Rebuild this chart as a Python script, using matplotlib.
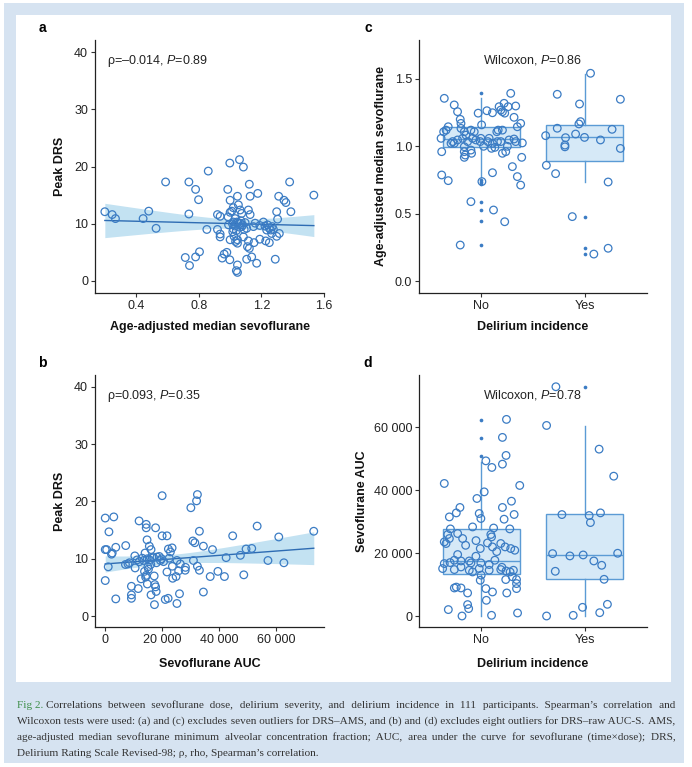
import numpy as np
import matplotlib
matplotlib.use('Agg')
import matplotlib.pyplot as plt
from matplotlib.patches import Rectangle
from matplotlib.ticker import FuncFormatter

plt.rcParams['font.family'] = ['Liberation Sans', 'DejaVu Sans']
plt.rcParams['mathtext.fontset'] = 'custom'
plt.rcParams['mathtext.rm'] = 'Liberation Sans'
plt.rcParams['mathtext.it'] = 'Liberation Sans:italic'

# --- panel a: age-adjusted median sevoflurane vs peak DRS
ams_a = [0.198, 0.245, 0.266, 0.443, 0.479, 0.526, 0.587, 0.713, 0.736, 0.736, 0.740, 0.779, 0.779,
         0.798, 0.804, 0.851, 0.860, 0.919, 0.936, 0.919, 0.936, 0.936, 0.949, 0.962, 0.979, 0.985,
         0.998, 0.998, 0.987, 1.000, 1.010, 1.000, 1.017, 1.020, 1.047, 1.047, 1.040, 1.047, 1.047,
         1.047, 1.060, 1.085, 1.053, 1.064, 1.074, 1.032, 1.043, 1.064, 1.074, 1.096, 1.106, 1.085,
         1.106, 1.123, 1.128, 1.117, 1.128, 1.111, 1.123, 1.117, 1.138, 1.153, 1.149, 1.160, 1.177,
         1.170, 1.190, 1.213, 1.223, 1.234, 1.228, 1.251, 1.251, 1.260, 1.266, 1.277, 1.289, 1.298,
         1.304, 1.311, 1.298, 1.315, 1.345, 1.357, 1.381, 1.389, 1.536, 1.015, 1.030, 1.050, 1.060,
         1.070, 1.080, 1.020, 1.040, 0.990, 1.090, 1.000, 1.020, 1.035, 1.025, 1.270, 1.240, 1.190]
drs_a = [12.1, 11.6, 10.9, 10.9, 12.2, 9.2, 17.3, 4.1, 17.3, 11.7, 2.7, 16.0, 4.2, 14.2, 5.1, 9.0,
         19.2, 11.6, 11.3, 9.0, 8.2, 7.7, 4.0, 4.7, 5.0, 16.0, 20.6, 3.7, 11.2, 14.1, 12.2, 7.2, 8.6,
         10.3, 14.8, 2.8, 1.8, 1.5, 7.2, 6.6, 21.2, 19.9, 13.3, 12.4, 11.8, 10.9, 10.3, 10.1, 9.5,
         10.2, 9.2, 7.7, 3.8, 16.9, 14.8, 12.4, 11.6, 6.0, 5.7, 7.0, 4.2, 6.7, 9.5, 10.1, 15.3, 3.1,
         7.3, 10.3, 9.6, 8.9, 7.0, 9.2, 6.7, 8.9, 8.3, 9.0, 3.8, 12.1, 10.8, 14.8, 7.8, 8.3, 14.1,
         13.7, 17.3, 12.1, 15.0, 10.0, 9.6, 10.2, 9.4, 10.5, 9.8, 9.1, 8.8, 9.8, 9.0, 12.0, 12.8,
         6.9, 7.8, 9.5, 9.8, 9.7]

# --- panel b: sevoflurane AUC vs peak DRS
auc_b = [0, 3000, 1300, 0, 500, 2200, 2450, 3700, 1050, 0, 3700, 7200, 7100, 8000, 10400, 11200,
         11900, 9200, 9200, 9200, 11600, 12600, 13500, 14400, 14400, 14700, 15500, 16100, 14800,
         15500, 16500, 13800, 14400, 14800, 14200, 15200, 17700, 16100, 17200, 17400, 17700, 17900,
         17300, 17000, 18200, 19400, 19800, 20000, 20000, 21700, 21100, 22100, 21700, 22200, 23500,
         22900, 23600, 23700, 24900, 25200, 26100, 25800, 25200, 26400, 28200, 28100, 30100, 31000,
         30800, 31500, 32100, 32400, 33100, 32400, 33100, 34500, 34500, 36900, 37700, 39600, 41900,
         42500, 44800, 47500, 48700, 49500, 51500, 53400, 57200, 61000, 62800, 73300,
         12000, 13000, 15000, 16000, 18000, 19000, 14000, 10500, 8500, 20500, 22500]
drs_b = [17.1, 17.3, 14.7, 11.6, 11.6, 10.8, 11.0, 12.0, 8.6, 6.2, 3.0, 12.3, 9.0, 9.1, 10.5, 9.8,
         16.6, 5.2, 3.7, 3.1, 4.8, 6.5, 9.7, 16.0, 15.4, 13.3, 12.2, 11.6, 10.0, 9.8, 10.2, 7.8, 7.1,
         5.6, 6.8, 8.2, 15.4, 3.7, 7.0, 5.5, 5.1, 4.3, 2.0, 10.2, 10.3, 9.7, 10.0, 21.0, 14.0, 14.0,
         2.9, 3.1, 7.7, 11.7, 11.9, 11.2, 8.7, 6.6, 6.9, 2.2, 3.9, 7.9, 9.7, 9.1, 8.5, 8.0, 18.9,
         9.7, 13.1, 12.8, 20.1, 21.2, 14.8, 8.7, 8.0, 12.2, 4.2, 6.9, 11.6, 7.8, 6.9, 10.2, 14.0,
         10.6, 7.2, 11.7, 11.8, 15.7, 9.7, 13.8, 9.3, 14.8,
         9.5, 10.1, 8.6, 9.0, 9.3, 10.4, 11.0, 8.4, 9.3, 9.5, 10.1]

groups = ['No', 'Yes']

# --- panel c: AMS by delirium incidence (jitter offsets)
c_no_jit = [-0.356, -0.26, -0.228, -0.202, -0.195, -0.318, -0.339, -0.362, -0.387, -0.381, -0.381,
            -0.318, -0.275, -0.291, -0.195, -0.163, -0.147, -0.179, -0.163, -0.163, -0.154, -0.163,
            -0.099, -0.093, -0.099, -0.067, -0.083, -0.051, -0.029, 0.004, -0.003, -0.009, 0.007,
            0.055, 0.109, 0.109, 0.1, 0.109, 0.077, 0.151, 0.164, 0.173, 0.189, 0.205, 0.221, 0.227,
            0.26, 0.285, 0.333, 0.317, 0.349, 0.381, 0.397, 0.391, 0.349, 0.301, 0.381, 0.205, 0.237,
            0.189, 0.269, 0.317, 0.333, 0.253, 0.132, 0.064, 0.157, -0.099, 0.119, 0.227, -0.202,
            -0.228, -0.26, -0.131, 0.023, 0.205]
c_no_val = [1.356, 1.307, 1.257, 1.2, 1.17, 1.145, 1.12, 1.108, 1.059, 0.96, 0.787, 0.745, 1.035,
            1.022, 1.133, 1.108, 1.083, 1.059, 0.997, 0.96, 0.935, 0.918, 0.972, 0.948, 1.12, 1.108,
            1.059, 1.047, 1.246, 1.159, 1.059, 1.035, 0.738, 1.264, 1.249, 1.022, 0.985, 0.804,
            1.059, 1.108, 1.12, 1.294, 1.269, 1.257, 1.319, 1.246, 1.294, 1.393, 1.299, 1.215, 1.145,
            1.17, 1.025, 0.918, 0.775, 0.849, 0.712, 0.948, 0.96, 1.035, 1.047, 1.054, 1.035, 1.0,
            0.992, 1.035, 1.035, 0.589, 0.527, 0.44, 0.267, 1.047, 1.022, 1.035, 1.0, 1.12]
c_yes_jit = [0.055, -0.266, 0.343, -0.051, -0.041, -0.057, -0.266, 0.263, -0.378, -0.089, -0.186,
             -0.003, 0.151, -0.192, -0.192, 0.343, -0.371, -0.282, 0.225, -0.121, 0.225, 0.087]
c_yes_val = [1.542, 1.386, 1.349, 1.314, 1.183, 1.166, 1.134, 1.126, 1.079, 1.091, 1.064, 1.066,
             1.047, 1.009, 0.996, 0.984, 0.859, 0.797, 0.735, 0.478, 0.243, 0.2]
c_q1 = [0.993, 0.889]
c_med = [1.052, 1.067]
c_q3 = [1.146, 1.156]
c_lo = [0.775, 0.738]
c_hi = [1.356, 1.537]
c_fliers = [[1.393, 0.75, 0.735, 0.72, 0.589, 0.527, 0.443, 0.267], [0.477, 0.243, 0.2]]

# --- panel d: sevoflurane AUC by delirium incidence
d_no_jit = [0.244, 0.205, 0.24, 0.045, 0.103, 0.205, -0.356, 0.372, 0.029, -0.041, -0.205, -0.24,
            -0.307, -0.019, -0.003, 0.205, 0.292, 0.318, 0.221, 0.276, -0.083, -0.297, -0.323,
            -0.227, -0.179, -0.356, -0.307, -0.339, 0.093, 0.1, 0.061, -0.009, 0.109, 0.189, 0.231,
            0.285, 0.324, -0.227, -0.259, -0.195, -0.115, -0.099, -0.051, -0.003, 0.077, 0.132,
            -0.356, -0.372, -0.259, -0.195, -0.115, -0.083, -0.019, 0.077, 0.189, 0.24, 0.279, 0.311,
            -0.009, 0.237, 0.341, 0.341, 0.341, -0.259, -0.195, -0.131, 0.045, 0.109, 0.247, -0.131,
            -0.121, -0.317, -0.185, 0.1, 0.351,
            -0.05, 0.15, -0.3, 0.0, 0.12, -0.15, 0.2, 0.3, -0.24, 0.05]
d_no_val = [62570, 56840, 51100, 49380, 47280, 48330, 42180, 41550, 39510, 37400, 34540, 32810,
            31540, 32620, 31030, 34540, 36540, 32310, 30810, 27720, 28350, 27720, 25940, 26250,
            24660, 23580, 24660, 23070, 25940, 25170, 23260, 21470, 21990, 23070, 21990, 21470,
            20930, 19560, 17750, 17520, 17520, 16890, 19020, 16890, 16380, 17750, 16690, 15100,
            14780, 15610, 14560, 14020, 15100, 14560, 14780, 14340, 14020, 14560, 11370, 11600,
            11600, 10320, 8730, 8920, 8920, 7330, 8730, 7650, 7330, 3630, 2360, 2040, 0, 220, 960,
            24000, 20500, 17000, 13000, 28000, 22500, 15500, 12500, 9200, 5000]
d_yes_jit = [-0.279, -0.369, 0.138, 0.279, -0.221, 0.042, 0.054, 0.151, -0.311, -0.144, -0.016,
             0.087, 0.163, -0.285, 0.317, 0.186, -0.022, 0.218, 0.144, -0.112, -0.369]
d_yes_val = [72960, 60640, 53100, 44500, 32280, 31970, 29740, 32820, 19860, 19120, 19430, 17520,
             16140, 14230, 19970, 11680, 2760, 3720, 1060, 210, 0]
d_q1 = [13500, 11700]
d_med = [17600, 19400]
d_q3 = [27800, 32400]
d_lo = [0, 0]
d_hi = [49000, 60500]
d_fliers = [[62500, 56800, 51000], [73000]]

blue = '#3b7cc4'
box_edge = '#5b9bd5'
box_fill = '#d6e9f7'
band = '#c3e2f2'
frame = '#d6e3f1'

W, H = 692, 767
fig = plt.figure(figsize=(W / 100, H / 100), dpi=100, facecolor='white')
fig.patches.append(Rectangle((4 / W, 1 - 763 / H), 680 / W, 760 / H, transform=fig.transFigure,
                             facecolor=frame, edgecolor='none', zorder=-2))
fig.patches.append(Rectangle((16 / W, 1 - 682 / H), 655 / W, 667 / H, transform=fig.transFigure,
                             facecolor='white', edgecolor='none', zorder=-1))


def add_axes(x0, y0, x1, y1):
    ax = fig.add_axes([x0 / W, 1 - y1 / H, (x1 - x0) / W, (y1 - y0) / H])
    for s in ['top', 'right']:
        ax.spines[s].set_visible(False)
    for s in ['left', 'bottom']:
        ax.spines[s].set_linewidth(0.9)
        ax.spines[s].set_color('#222222')
    ax.tick_params(length=3, width=0.8, color='#333333', labelsize=9, labelcolor='#222222', pad=2)
    return ax


thousands = FuncFormatter(lambda v, p: f'{int(v):,}'.replace(',', ' '))


def scatter_fit(ax, x, y):
    x = np.asarray(x, float)
    y = np.asarray(y, float)
    n = len(x)
    b1, b0 = np.polyfit(x, y, 1)
    xs = np.linspace(x.min(), x.max(), 80)
    resid = y - (b0 + b1 * x)
    s = np.sqrt(np.sum(resid ** 2) / (n - 2))
    se = s * np.sqrt(1 / n + (xs - x.mean()) ** 2 / np.sum((x - x.mean()) ** 2))
    fit = b0 + b1 * xs
    ax.fill_between(xs, fit - 1.984 * se, fit + 1.984 * se, color=band, lw=0, zorder=1)
    ax.plot(xs, fit, color='#2e6cb3', lw=1.0, zorder=2)
    ax.scatter(x, y, s=30, facecolors='none', edgecolors=blue, linewidths=0.9, zorder=3)


def box_jitter(ax, q1, med, q3, lo, hi, fliers, jit, vals):
    stats = [dict(q1=q1[i], med=med[i], q3=q3[i], whislo=lo[i], whishi=hi[i], fliers=[])
             for i in range(2)]
    ax.bxp(stats, positions=[1, 2], widths=0.74, patch_artist=True, showcaps=False,
           boxprops=dict(facecolor=box_fill, edgecolor=box_edge, linewidth=1.0),
           medianprops=dict(color=box_edge, linewidth=1.0),
           whiskerprops=dict(color=box_edge, linewidth=1.0), zorder=1)
    for i in range(2):
        ax.scatter([i + 1] * len(fliers[i]), fliers[i], s=7, color=blue, lw=0, zorder=2)
        ax.scatter(np.asarray(jit[i]) + i + 1, vals[i], s=30, facecolors='none', edgecolors=blue,
                   linewidths=0.9, zorder=3)
    ax.set_xlim(0.4, 2.6)
    ax.set_xticks([1, 2])
    ax.set_xticklabels(groups)


def labels(ax, xlabel, ylabel, ylx, xly, letter):
    ax.set_xlabel(xlabel, fontsize=9, fontweight='bold', color='#111111')
    ax.set_ylabel(ylabel, fontsize=9, fontweight='bold', color='#111111')
    ax.xaxis.set_label_coords(0.5, xly)
    ax.xaxis.label.set_va('center')
    ax.yaxis.set_label_coords(ylx, 0.5)
    ax.yaxis.label.set_va('center')
    ax.text(letter[1], letter[2], letter[0], transform=fig.transFigure, fontsize=10,
            fontweight='bold', ha='center', va='center')


# a
ax = add_axes(95, 40, 324, 293)
scatter_fit(ax, ams_a, drs_a)
ax.set_xlim(0.135, 1.601)
ax.set_ylim(-2.1, 42.1)
ax.set_xticks([0.4, 0.8, 1.2, 1.6])
ax.set_yticks([0, 10, 20, 30, 40])
ax.text(0.212, 38.4, '\u03c1=\u20130.014, $\\mathit{P}$=0.89', fontsize=9, va='center', color='#222222')
labels(ax, 'Age-adjusted median sevoflurane', 'Peak DRS', -0.153, -0.133, ('a', 42 / W, 1 - 28 / H))

# b
ax = add_axes(95, 375, 324, 627)
scatter_fit(ax, auc_b, drs_b)
ax.set_xlim(-3600, 76900)
ax.set_ylim(-1.9, 42.05)
ax.set_xticks([0, 20000, 40000, 60000])
ax.xaxis.set_major_formatter(thousands)
ax.set_yticks([0, 10, 20, 30, 40])
ax.text(500, 38.4, '\u03c1=0.093, $\\mathit{P}$=0.35', fontsize=9, va='center', color='#222222')
labels(ax, 'Sevoflurane AUC', 'Peak DRS', -0.153, -0.145, ('b', 42 / W, 1 - 363 / H))

# c
ax = add_axes(419, 40, 647, 293)
box_jitter(ax, c_q1, c_med, c_q3, c_lo, c_hi, c_fliers, [c_no_jit, c_yes_jit], [c_no_val, c_yes_val])
ax.set_ylim(-0.089, 1.789)
ax.set_yticks([0.0, 0.5, 1.0, 1.5])
ax.yaxis.set_major_formatter(FuncFormatter(lambda v, p: f'{v:.1f}'))
ax.text(1.5, 1.641, 'Wilcoxon, $\\mathit{P}$=0.86', fontsize=9, ha='center', va='center', color='#222222')
labels(ax, 'Delirium incidence', 'Age-adjusted median sevoflurane', -0.165, -0.133, ('c', 368 / W, 1 - 28 / H))

# d
ax = add_axes(419, 375, 647, 627)
box_jitter(ax, d_q1, d_med, d_q3, d_lo, d_hi, d_fliers, [d_no_jit, d_yes_jit], [d_no_val, d_yes_val])
ax.set_ylim(-3500, 76700)
ax.set_yticks([0, 20000, 40000, 60000])
ax.yaxis.set_major_formatter(thousands)
ax.text(1.5, 70300, 'Wilcoxon, $\\mathit{P}$=0.78', fontsize=9, ha='center', va='center', color='#222222')
labels(ax, 'Delirium incidence', 'Sevoflurane AUC', -0.248, -0.145, ('d', 368 / W, 1 - 363 / H))

# caption: one text per line, justified by padding the word gaps with hair spaces
fig_label = 'Fig 2.'
cap = ['Correlations between sevoflurane dose, delirium severity, and delirium incidence in 111 participants. Spearman\u2019s correlation and',
       'Wilcoxon tests were used: (a) and (c) excludes seven outliers for DRS\u2013AMS, and (b) and (d) excludes eight outliers for DRS\u2013raw AUC-S. AMS,',
       'age-adjusted median sevoflurane minimum alveolar concentration fraction; AUC, area under the curve for sevoflurane (time\u00d7dose); DRS,',
       'Delirium Rating Scale Revised-98; \u03c1, rho, Spearman\u2019s correlation.']
serif = ['Liberation Serif', 'DejaVu Serif']
cap_size = 8.1
cap_x0, cap_x1 = 17, 675
hair = '\u200a'
renderer = fig.canvas.get_renderer()


def text_width(s):
    t = fig.text(0, 0, s, fontsize=cap_size, family=serif)
    w = t.get_window_extent(renderer).width
    t.remove()
    return w


hair_w = (text_width('a' + hair * 20 + 'a') - text_width('aa')) / 20

t0 = fig.text(cap_x0 / W, 1 - 708 / H, fig_label, color='#3f8f4a', fontsize=cap_size, family=serif,
              va='baseline')
start1 = cap_x0 + t0.get_window_extent(renderer).width + text_width('a a') - text_width('aa')

for i, line in enumerate(cap):
    x0 = start1 if i == 0 else cap_x0
    words = line.split(' ')
    if i < len(cap) - 1 and hair_w > 0.05:
        extra = cap_x1 - x0 - text_width(line)
        n_hair = max(0, int(round(extra / hair_w)))
        gaps = len(words) - 1
        out = words[0]
        for g in range(gaps):
            k = (g + 1) * n_hair // gaps - g * n_hair // gaps
            out += ' ' + hair * k + words[g + 1]
        line = out
    fig.text(x0 / W, 1 - (708 + 16 * i) / H, line, fontsize=cap_size, family=serif, color='#333333',
             va='baseline')

fig.savefig('out.png', dpi=100, facecolor=fig.get_facecolor())
